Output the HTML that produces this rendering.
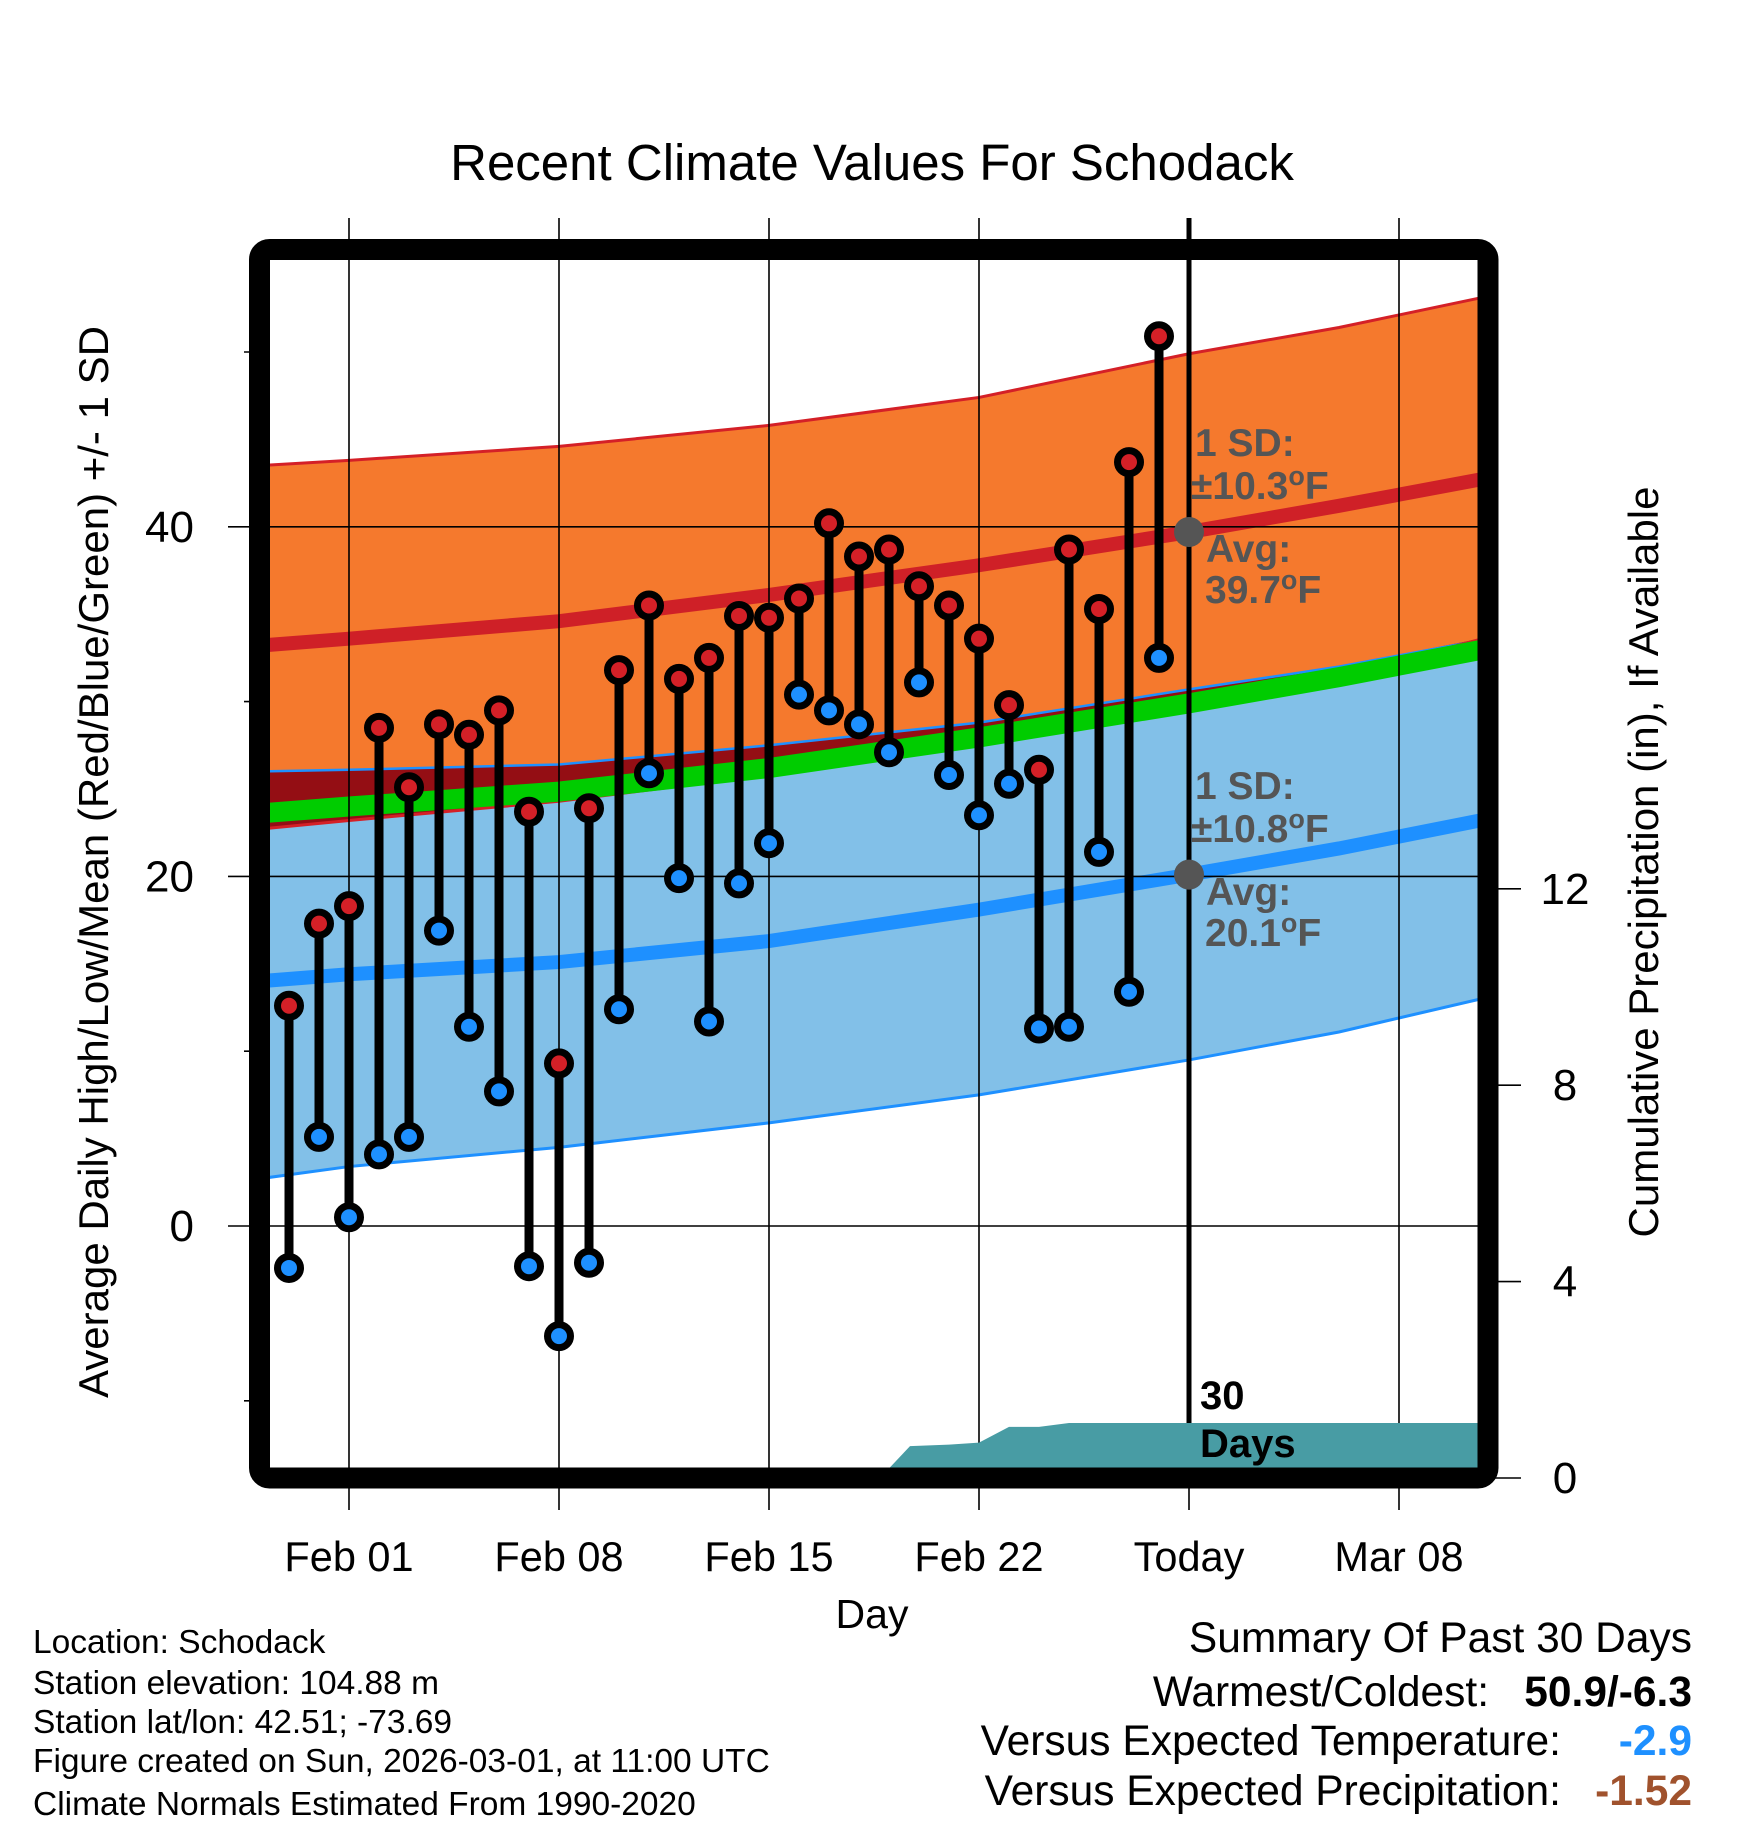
<!DOCTYPE html>
<html><head><meta charset="utf-8"><style>
body{margin:0;background:#fff}
svg{display:block;font-family:"Liberation Sans",Arial,sans-serif}
</style></head><body>
<svg id="chart" width="1748" height="1828" viewBox="0 0 1748 1828" xmlns="http://www.w3.org/2000/svg">
<defs><clipPath id="pc"><rect x="270" y="260" width="1208" height="1208"/></clipPath></defs>
<rect width="1748" height="1828" fill="#fff"/>
<g id="bands" clip-path="url(#pc)"></g>
<g id="grid"></g>
<g id="precip" clip-path="url(#pc)"></g>
<g id="marks" clip-path="url(#pc)"></g>
<g id="ann"></g>
<rect x="259.5" y="249.5" width="1228.5" height="1228.5" rx="10" fill="none" stroke="#000" stroke-width="21"/>
<text x="872" y="180" font-size="51" text-anchor="middle">Recent Climate Values For Schodack</text>
<text transform="translate(108,862) rotate(-90)" font-size="42" text-anchor="middle">Average Daily High/Low/Mean (Red/Blue/Green) +/- 1 SD</text>
<text transform="translate(1658,862) rotate(-90)" font-size="42" text-anchor="middle">Cumulative Precipitation (in), If Available</text>
<text x="872" y="1628" font-size="41" text-anchor="middle">Day</text>
<g font-size="33.5">
<text x="33" y="1653">Location: Schodack</text>
<text x="33" y="1694">Station elevation: 104.88 m</text>
<text x="33" y="1733">Station lat/lon: 42.51; -73.69</text>
<text x="33" y="1772">Figure created on Sun, 2026-03-01, at 11:00 UTC</text>
<text x="33" y="1815">Climate Normals Estimated From 1990-2020</text>
</g>
<g font-size="42.5">
<text x="1692" y="1652" text-anchor="end">Summary Of Past 30 Days</text>
<text x="1489" y="1706" text-anchor="end">Warmest/Coldest:</text>
<text x="1692" y="1706" text-anchor="end" font-weight="bold">50.9/-6.3</text>
<text x="1561" y="1755" text-anchor="end">Versus Expected Temperature:</text>
<text x="1692" y="1755" text-anchor="end" font-weight="bold" fill="#1e90ff">-2.9</text>
<text x="1561" y="1805" text-anchor="end">Versus Expected Precipitation:</text>
<text x="1692" y="1805" text-anchor="end" font-weight="bold" fill="#a0522d">-1.52</text>
</g>
</svg>
<script>
// observed data (days relative to Feb 01)
const obsDays = [-2,-1,0,1,2,3,4,5,6,7,8,9,10,11,12,13,14,15,16,17,18,19,20,21,22,23,24,25,26,27];
const highs = [12.6,17.3,18.3,28.5,25.1,28.7,28.1,29.5,23.7,9.3,23.9,31.8,35.5,31.3,32.5,34.9,34.8,35.9,40.2,38.3,38.7,36.6,35.5,33.6,29.8,26.1,38.7,35.3,43.7,50.9];
const lows = [-2.4,5.1,0.5,4.1,5.1,16.9,11.4,7.7,-2.3,-6.3,-2.1,12.4,25.9,19.9,11.7,19.6,21.9,30.4,29.5,28.7,27.1,31.1,25.8,23.5,25.3,11.3,11.4,21.4,13.4,32.5];
// climate normals
const normDays = [-3,0,7,14,21,28,33,38];
const avgHigh = [33.2,33.6,34.6,36.1,37.8,39.7,41.2,42.8];
const highUpper = [43.5,43.8,44.6,45.8,47.4,49.9,51.4,53.2];
const highLower = [22.7,23.2,24.3,25.8,27.5,29.6,31.4,33.7];
const avgLow = [14.0,14.4,15.1,16.3,18.1,20.1,21.6,23.3];
const lowUpper = [26.0,26.1,26.4,27.5,28.8,30.7,32.0,33.6];
const lowLower = [2.7,3.4,4.5,5.9,7.5,9.5,11.1,13.1];
// cumulative precipitation
const precipDays = [17.7,18.7,20,21,22,23,24,38];
const precipVals = [0,0.65,0.68,0.72,1.04,1.04,1.12,1.12];
const xTickDays = [0,7,14,21,28,35];
const xTickLabels = ["Feb 01","Feb 08","Feb 15","Feb 22","Today","Mar 08"];
const yTicks = [0,20,40];
const yMinor = [-10,10,30,50];
const pTicks = [0,4,8,12];
const todayDay = 28;
const todayHigh = 39.7, todayLow = 20.1, sdHigh = 10.3, sdLow = 10.8;

const NS="http://www.w3.org/2000/svg";
const X=d=>349+30*d;
const Y=t=>1226-17.48*t;
const P=p=>1478-49.1*p;
function mk(tag,attrs,parent){const e=document.createElementNS(NS,tag);for(const k in attrs)e.setAttribute(k,attrs[k]);parent.appendChild(e);return e;}
const bands=document.getElementById('bands'),grid=document.getElementById('grid'),pr=document.getElementById('precip'),marks=document.getElementById('marks'),ann=document.getElementById('ann');
function bandPath(up,lo){let s='';normDays.forEach((d,i)=>{s+=(i?'L':'M')+X(d)+','+Y(up[i]);});for(let i=normDays.length-1;i>=0;i--)s+='L'+X(normDays[i])+','+Y(lo[i]);return s+'Z';}
function linePath(v){return normDays.map((d,i)=>(i?'L':'M')+X(d)+','+Y(v[i])).join('');}
let e;
e=mk('path',{d:bandPath(highUpper,highLower),fill:'#f5792d'},bands);

e=mk('path',{d:linePath(highUpper),fill:'none',stroke:'#d42027','stroke-width':3},bands);

e=mk('path',{d:bandPath(lowUpper,lowLower),fill:'#82c0e8'},bands);

const ovUp=lowUpper.map((v,i)=>Math.max(v,highLower[i])), ovLo=highLower.slice();
e=mk('path',{d:bandPath(ovUp,ovLo),fill:'#940e14'},bands);

e=mk('path',{d:linePath(lowUpper),fill:'none',stroke:'#1e90ff','stroke-width':2.5},bands);

e=mk('path',{d:linePath(lowLower),fill:'none',stroke:'#1e90ff','stroke-width':3},bands);

e=mk('path',{d:linePath(highLower),fill:'none',stroke:'#d42027','stroke-width':3},bands);

const mean=avgHigh.map((v,i)=>(v+avgLow[i])/2);
e=mk('path',{d:linePath(mean),fill:'none',stroke:'#00cc00','stroke-width':20},bands);

e=mk('path',{d:linePath(avgHigh),fill:'none',stroke:'#cf2027','stroke-width':14},bands);

e=mk('path',{d:linePath(avgLow),fill:'none',stroke:'#1e90ff','stroke-width':14},bands);

xTickDays.forEach((d,i)=>{
 e=mk('line',{x1:X(d),x2:X(d),y1:218,y2:1510,stroke:'#000','stroke-width':1.6},grid);
 
 e=mk('text',{x:X(d),y:1571,'font-size':41.5,'text-anchor':'middle'},grid);e.textContent=xTickLabels[i];
 
});
yTicks.forEach(t=>{
 e=mk('line',{x1:228,x2:1478,y1:Y(t),y2:Y(t),stroke:'#000','stroke-width':1.6},grid);
 
 e=mk('text',{x:194,y:Y(t)+15,'font-size':44,'text-anchor':'end'},grid);e.textContent=t;
 
});
yMinor.forEach(t=>{
 e=mk('line',{x1:244,x2:262,y1:Y(t),y2:Y(t),stroke:'#000','stroke-width':1.6},grid);
 
});
pTicks.forEach(p=>{
 e=mk('line',{x1:1490,x2:1521,y1:P(p),y2:P(p),stroke:'#000','stroke-width':1.6},grid);
 
 e=mk('text',{x:1565,y:P(p)+15,'font-size':44,'text-anchor':'middle'},grid);e.textContent=p;
 
});
let ps='M'+X(precipDays[0])+','+P(0);
precipDays.forEach((d,i)=>{ps+='L'+X(d)+','+P(precipVals[i]);});
ps+='L'+X(precipDays[precipDays.length-1])+','+P(0)+'Z';
e=mk('path',{d:ps,fill:'#489ca4'},pr);

e=mk('line',{x1:X(todayDay),x2:X(todayDay),y1:218,y2:1468,stroke:'#000','stroke-width':5},grid);

obsDays.forEach((d,i)=>{
 e=mk('line',{x1:X(d),x2:X(d),y1:Y(highs[i]),y2:Y(lows[i]),stroke:'#000','stroke-width':9},marks);
 
});
obsDays.forEach((d,i)=>{
 e=mk('circle',{cx:X(d),cy:Y(highs[i]),r:11.5,fill:'#d42027',stroke:'#000','stroke-width':7},marks);
 
 e=mk('circle',{cx:X(d),cy:Y(lows[i]),r:11.5,fill:'#1e90ff',stroke:'#000','stroke-width':7},marks);
 
});
[todayHigh,todayLow].forEach(v=>{
 e=mk('circle',{cx:X(todayDay),cy:Y(v),r:15,fill:'#555'},ann);
 
});
const deg='<tspan dy="-14" font-size="27">o</tspan><tspan dy="14">F</tspan>';
function lab(x,y,html,name){e=mk('text',{x:x,y:y,'font-size':39,'font-weight':'bold',fill:'#555'},ann);e.innerHTML=html;
 }
lab(1195,456,'1 SD:','high-sd-label');
lab(1191,499,'±'+sdHigh.toFixed(1)+deg,'high-sd-value');
lab(1206,562,'Avg:','high-avg-label');
lab(1205,603,todayHigh.toFixed(1)+deg,'high-avg-value');
lab(1195,799,'1 SD:','low-sd-label');
lab(1191,842,'±'+sdLow.toFixed(1)+deg,'low-sd-value');
lab(1206,905,'Avg:','low-avg-label');
lab(1205,946,todayLow.toFixed(1)+deg,'low-avg-value');
e=mk('text',{x:1200,y:1409,'font-size':40,'font-weight':'bold'},ann);e.textContent='30';

e=mk('text',{x:1200,y:1457,'font-size':40,'font-weight':'bold'},ann);e.textContent='Days';

</script>
</body></html>
